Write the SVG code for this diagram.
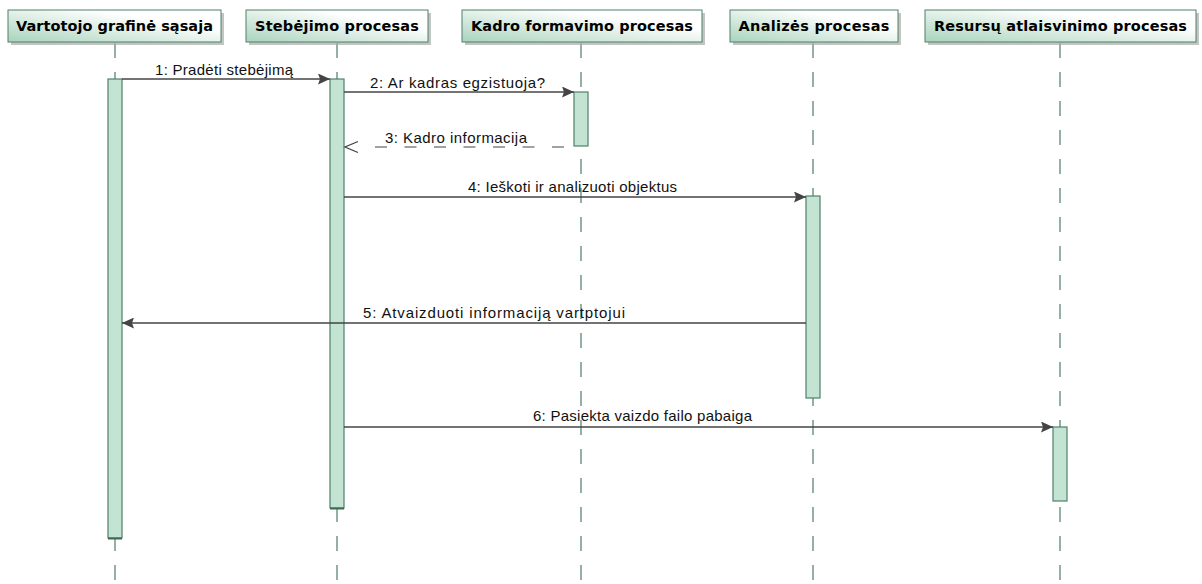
<svg xmlns="http://www.w3.org/2000/svg" width="1202" height="584" viewBox="0 0 1202 584">
  <style>
    .head { stroke: #4f806a; stroke-width: 1; fill: url(#headFill); }
    .shadow { fill: #a9aca9; opacity: 0.7; }
    .headText { font-family: "DejaVu Sans", Verdana, sans-serif; font-weight: bold; font-size: 14.5px; fill: #000; }
    .life { stroke: #5f8576; stroke-width: 1.3; stroke-dasharray: 15 14; fill: none; }
    .bar { fill: #c3e3d3; stroke: #4f806a; stroke-width: 1.2; }
    .msg { stroke: #444; stroke-width: 1.3; fill: none; }
    .ret { stroke: #444; stroke-width: 1.2; fill: none; stroke-dasharray: 12 17.5; }
    .label { font-family: "Liberation Sans", Arial, sans-serif; font-size: 15px; fill: #111; }
  </style>
  <defs>
    <linearGradient id="headFill" x1="0" y1="1" x2="1" y2="0">
      <stop offset="0" stop-color="#a8d3bc"/>
      <stop offset="0.7" stop-color="#ffffff"/>
      <stop offset="1" stop-color="#ffffff"/>
    </linearGradient>
    <marker id="solidHead" viewBox="0 0 12 11" refX="12" refY="5.5" markerWidth="12" markerHeight="11" markerUnits="userSpaceOnUse" orient="auto">
      <path d="M0,0 L12,5.5 L0,11 L2,5.5 Z" fill="#444"/>
    </marker>
  </defs>

  <rect width="1202" height="584" fill="#ffffff"/>

  <!-- lifelines -->
  <g id="lifelines">
    <line class="life" x1="115" y1="43" x2="115" y2="584"/>
    <line class="life" x1="337" y1="43" x2="337" y2="584"/>
    <line class="life" x1="581" y1="43" x2="581" y2="584"/>
    <line class="life" x1="813" y1="43" x2="813" y2="584"/>
    <line class="life" x1="1060" y1="43" x2="1060" y2="584"/>
  </g>

  <!-- participant: Vartotojo grafinė sąsaja -->
  <g id="gui">
    <rect class="shadow" x="11" y="13" width="213" height="32"/>
    <rect class="head" x="8" y="10" width="213" height="32"/>
    <text class="headText" x="114.5" y="31" text-anchor="middle" textLength="197" lengthAdjust="spacing">Vartotojo grafinė sąsaja</text>
    <rect class="bar" x="108" y="79" width="14" height="459"/>
    <line x1="108" y1="538.5" x2="122" y2="538.5" stroke="#3f6a56" stroke-width="2"/>
  </g>

  <!-- participant: Stebėjimo procesas -->
  <g id="monitor">
    <rect class="shadow" x="249" y="13" width="182" height="32"/>
    <rect class="head" x="246" y="10" width="182" height="32"/>
    <text class="headText" x="337" y="31" text-anchor="middle" textLength="164" lengthAdjust="spacing">Stebėjimo procesas</text>
    <rect class="bar" x="330" y="79" width="14" height="429"/>
    <line x1="330" y1="508.5" x2="344" y2="508.5" stroke="#3f6a56" stroke-width="2"/>
  </g>

  <!-- participant: Kadro formavimo procesas -->
  <g id="frame">
    <rect class="shadow" x="465" y="13" width="240" height="32"/>
    <rect class="head" x="462" y="10" width="240" height="32"/>
    <text class="headText" x="582" y="31" text-anchor="middle" textLength="222" lengthAdjust="spacing">Kadro formavimo procesas</text>
    <rect class="bar" x="574" y="92" width="14" height="54"/>
  </g>

  <!-- participant: Analizės procesas -->
  <g id="analysis">
    <rect class="shadow" x="733" y="13" width="168" height="32"/>
    <rect class="head" x="730" y="10" width="168" height="32"/>
    <text class="headText" x="814" y="31" text-anchor="middle" textLength="151" lengthAdjust="spacing">Analizės procesas</text>
    <rect class="bar" x="806" y="196" width="14" height="202"/>
  </g>

  <!-- participant: Resursų atlaisvinimo procesas -->
  <g id="release">
    <rect class="shadow" x="928" y="13" width="271" height="32"/>
    <rect class="head" x="925" y="10" width="271" height="32"/>
    <text class="headText" x="1060.5" y="31" text-anchor="middle" textLength="253" lengthAdjust="spacing">Resursų atlaisvinimo procesas</text>
    <rect class="bar" x="1053" y="427" width="14" height="74"/>
  </g>

  <!-- messages -->
  <g id="messages">
    <line class="msg" x1="122" y1="79" x2="330" y2="79" marker-end="url(#solidHead)"/>
    <text class="label" x="155" y="75" textLength="138" lengthAdjust="spacing">1:  Pradėti stebėjimą</text>

    <line class="msg" x1="344" y1="92" x2="574" y2="92" marker-end="url(#solidHead)"/>
    <text class="label" x="370" y="88" textLength="175" lengthAdjust="spacing">2:  Ar kadras egzistuoja?</text>

    <line class="ret" x1="375" y1="147" x2="572" y2="147"/>
    <path class="msg" d="M358,141.5 L345,147 L358,152.5" stroke-width="1.1"/>
    <text class="label" x="385" y="143" textLength="142" lengthAdjust="spacing">3:  Kadro informacija</text>

    <line class="msg" x1="344" y1="197" x2="806" y2="197" marker-end="url(#solidHead)"/>
    <text class="label" x="468" y="192" textLength="209" lengthAdjust="spacing">4:  Ieškoti ir analizuoti objektus</text>

    <line class="msg" x1="806" y1="323" x2="122" y2="323" marker-end="url(#solidHead)"/>
    <text class="label" x="363" y="318" textLength="262" lengthAdjust="spacing">5:  Atvaizduoti informaciją vartptojui</text>

    <line class="msg" x1="344" y1="427" x2="1053" y2="427" marker-end="url(#solidHead)"/>
    <text class="label" x="533" y="421" textLength="219" lengthAdjust="spacing">6:  Pasiekta vaizdo failo pabaiga</text>
  </g>
</svg>
